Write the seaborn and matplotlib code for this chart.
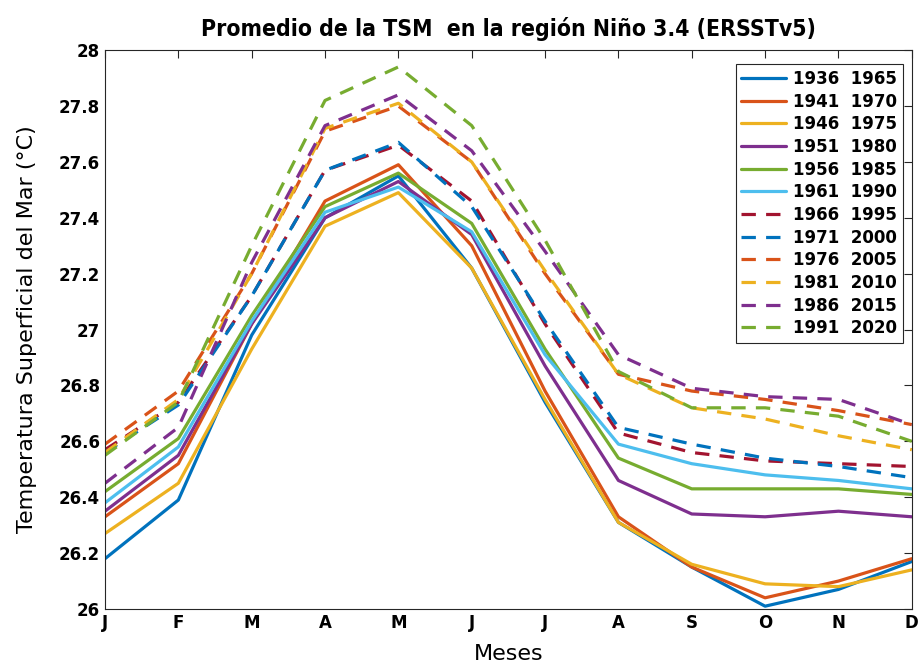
import numpy as np
import pandas as pd
import matplotlib
matplotlib.use("Agg")
import matplotlib.pyplot as plt
import seaborn as sns

months = ["J", "F", "M", "A", "M", "J", "J", "A", "S", "O", "N", "D"]
periods = ["1936  1965", "1941  1970", "1946  1975", "1951  1980", "1956  1985", "1961  1990",
           "1966  1995", "1971  2000", "1976  2005", "1981  2010", "1986  2015", "1991  2020"]

s1936 = [26.18, 26.39, 26.98, 27.40, 27.55, 27.22, 26.74, 26.31, 26.15, 26.01, 26.07, 26.17]
s1941 = [26.33, 26.52, 27.02, 27.46, 27.59, 27.30, 26.78, 26.33, 26.15, 26.04, 26.10, 26.18]
s1946 = [26.27, 26.45, 26.93, 27.37, 27.49, 27.22, 26.75, 26.31, 26.16, 26.09, 26.08, 26.14]
s1951 = [26.35, 26.55, 27.02, 27.40, 27.53, 27.34, 26.87, 26.46, 26.34, 26.33, 26.35, 26.33]
s1956 = [26.42, 26.61, 27.05, 27.44, 27.56, 27.38, 26.93, 26.54, 26.43, 26.43, 26.43, 26.41]
s1961 = [26.38, 26.58, 27.03, 27.42, 27.51, 27.35, 26.91, 26.59, 26.52, 26.48, 26.46, 26.43]
s1966 = [26.57, 26.74, 27.12, 27.57, 27.66, 27.46, 27.02, 26.63, 26.56, 26.53, 26.52, 26.51]
s1971 = [26.56, 26.73, 27.12, 27.57, 27.67, 27.44, 27.03, 26.65, 26.59, 26.54, 26.51, 26.47]
s1976 = [26.59, 26.78, 27.20, 27.71, 27.80, 27.60, 27.20, 26.84, 26.78, 26.75, 26.71, 26.66]
s1981 = [26.56, 26.75, 27.20, 27.72, 27.81, 27.60, 27.21, 26.84, 26.72, 26.68, 26.62, 26.57]
s1986 = [26.45, 26.65, 27.24, 27.73, 27.84, 27.64, 27.28, 26.91, 26.79, 26.76, 26.75, 26.66]
s1991 = [26.55, 26.74, 27.30, 27.82, 27.94, 27.73, 27.32, 26.85, 26.72, 26.72, 26.69, 26.60]

series = [s1936, s1941, s1946, s1951, s1956, s1961,
          s1966, s1971, s1976, s1981, s1986, s1991]

colors = ["#0072BD", "#D95319", "#EDB120", "#7E2F8E", "#77AC30", "#4DBEEE",
          "#A2142F", "#0072BD", "#D95319", "#EDB120", "#7E2F8E", "#77AC30"]

rows = []
for p, vals in zip(periods, series):
    for i, v in enumerate(vals):
        rows.append({"mes": i, "periodo": p, "tsm": v})
df = pd.DataFrame(rows)

sns.set_style("white")
plt.rcParams["font.family"] = ["DejaVu Sans"]
plt.rcParams["text.color"] = "black"
plt.rcParams["axes.labelcolor"] = "black"

fig = plt.figure(figsize=(9.21, 6.69), dpi=100)
ax = fig.add_axes([0.114, 0.0897, 0.876, 0.8353])

palette = dict(zip(periods, colors))
dashes = {p: ("" if k < 6 else (4.5, 3.2)) for k, p in enumerate(periods)}
sns.lineplot(data=df, x="mes", y="tsm", hue="periodo", style="periodo",
             palette=palette, dashes=dashes, linewidth=2.3, ax=ax, legend=True)

ax.set_xlim(0, 11)
ax.set_ylim(26, 28)
ax.set_xticks(range(12))
ax.set_xticklabels(months, fontweight="bold", fontsize=12)
yt = [26, 26.2, 26.4, 26.6, 26.8, 27, 27.2, 27.4, 27.6, 27.8, 28]
ax.set_yticks(yt)
ax.set_yticklabels([f"{v:g}" for v in yt], fontweight="bold", fontsize=12)
ax.tick_params(direction="in", length=6, width=0.8, colors="#262626",
               top=True, right=True, labelcolor="black")
for s in ax.spines.values():
    s.set_color("#262626")
    s.set_linewidth(0.8)

ax.set_xlabel("Meses", fontsize=16, labelpad=9, color="black")
ax.set_ylabel("Temperatura Superficial del Mar (°C)", fontsize=16, labelpad=16, color="black")
ax.set_title("Promedio de la TSM  en la región Niño 3.4 (ERSSTv5)",
             fontsize=16.5, fontweight="bold", fontstretch="condensed", pad=10, color="black")

handles, labels = ax.get_legend_handles_labels()
leg = ax.legend(handles, labels, loc="upper right", bbox_to_anchor=(0.989, 0.975),
                borderaxespad=0,
                prop={"weight": "bold", "size": 12}, frameon=True, fancybox=False,
                edgecolor="#262626", framealpha=1, handlelength=2.7, handletextpad=0.4,
                labelspacing=0.28, borderpad=0.35, labelcolor="black")
leg.get_frame().set_linewidth(0.8)

fig.savefig("out.png", dpi=100)
